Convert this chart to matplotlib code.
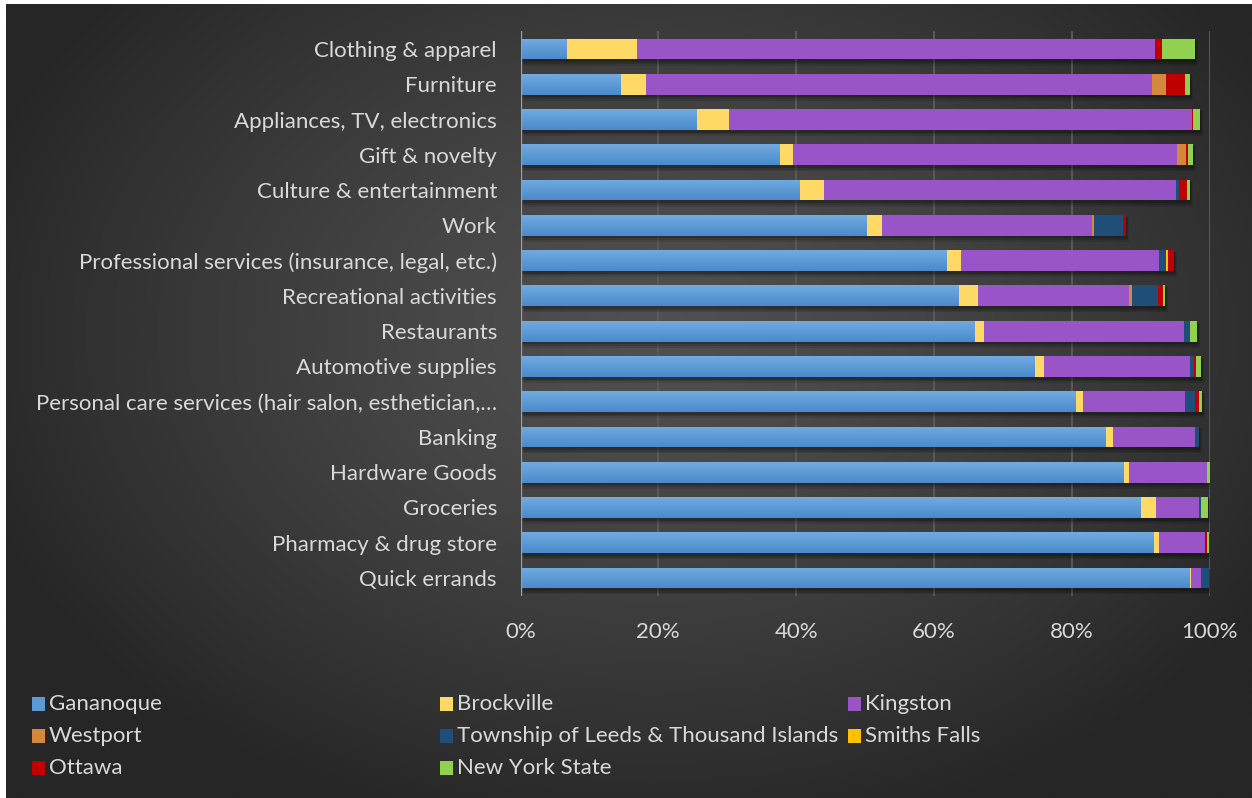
import numpy as np
import matplotlib.pyplot as plt
from matplotlib import transforms
from matplotlib.patches import Rectangle

categories = [
    "Clothing & apparel",
    "Furniture",
    "Appliances, TV, electronics",
    "Gift & novelty",
    "Culture & entertainment",
    "Work",
    "Professional services (insurance, legal, etc.)",
    "Recreational activities",
    "Restaurants",
    "Automotive supplies",
    "Personal care services (hair salon, esthetician,\u2026",
    "Banking",
    "Hardware Goods",
    "Groceries",
    "Pharmacy & drug store",
    "Quick errands",
]

# share of trips (%) per destination, one list per destination
gananoque = [6.6, 14.4, 25.5, 37.5, 40.4, 50.1, 61.7, 63.5, 65.8, 74.5, 80.5, 84.9, 87.4, 89.9, 91.8, 97.0]
brockville = [10.3, 3.8, 4.7, 2.1, 3.7, 2.3, 2.2, 2.9, 1.5, 1.5, 1.2, 1.1, 0.9, 2.3, 0.9, 0.3]
kingston = [75.2, 73.5, 67.2, 55.7, 51.0, 30.5, 28.8, 21.9, 29.0, 21.2, 14.7, 11.9, 11.4, 6.3, 6.6, 1.5]
westport = [0, 2.0, 0, 1.3, 0, 0.4, 0, 0.4, 0, 0, 0, 0, 0, 0, 0, 0]
leeds_ti = [0, 0, 0, 0, 0.5, 4.1, 1.0, 3.8, 0.9, 0.5, 1.5, 0.6, 0, 0.3, 0, 1.1]
smiths_falls = [0, 0, 0, 0, 0, 0, 0.3, 0, 0, 0, 0, 0, 0, 0, 0, 0]
ottawa = [1.0, 2.7, 0.2, 0.3, 1.1, 0.5, 0.9, 0.7, 0, 0.3, 0.6, 0, 0, 0, 0.3, 0]
new_york = [4.8, 0.8, 1.0, 0.7, 0.5, 0, 0, 0.3, 1.0, 0.8, 0.4, 0, 0.3, 1.0, 0.3, 0]

series = [
    ("Gananoque", gananoque, "#5B9BD5"),
    ("Brockville", brockville, "#FFD966"),
    ("Kingston", kingston, "#9955C8"),
    ("Westport", westport, "#D4893A"),
    ("Township of Leeds & Thousand Islands", leeds_ti, "#1F4E79"),
    ("Smiths Falls", smiths_falls, "#FFC000"),
    ("Ottawa", ottawa, "#C00000"),
    ("New York State", new_york, "#92D050"),
]

W, H = 1252, 798
text_col = "#D9D9D9"
font = "Lato"
fsize = 16

fig = plt.figure(figsize=(W / 100, H / 100), dpi=100)
fig.patch.set_facecolor("white")

# radial dark background
bg = fig.add_axes([0, 0, 1, 1], zorder=0)
bg.set_xlim(0, W)
bg.set_ylim(H, 0)
bg.axis("off")
gx, gy = np.meshgrid(np.arange(W), np.arange(H))
d = np.sqrt(((gx - 650) / 720.0) ** 2 + ((gy - 330) / 520.0) ** 2)
d = np.clip(d, 0, 1)
v = (80 - 42 * d ** 1.3) / 255.0
img = np.dstack([v, v, v])
bg.imshow(img, extent=(6, W, H, 4), aspect="auto", interpolation="bilinear")

left, right = 520.5, 1209.5
top, bottom = 31.4, 595.6
ax = fig.add_axes([left / W, 1 - bottom / H, (right - left) / W, (bottom - top) / H], zorder=1)
ax.patch.set_alpha(0)

y = np.arange(len(categories))
bh = 0.59

totals = np.sum([s[1] for s in series], axis=0)

# soft drop shadow under each bar
for k, (dx, dy, a) in enumerate([(3, -4, 0.10), (2, -3, 0.14), (1, -2, 0.18)]):
    off = transforms.offset_copy(ax.transData, fig=fig, x=dx, y=dy, units="dots")
    ax.barh(y, totals, height=bh + 0.04 * (3 - k), color="black", alpha=a,
            transform=off, zorder=2, linewidth=0)

lefts = np.zeros(len(categories))
for name, vals, col in series:
    vals = np.array(vals, dtype=float)
    bars = ax.barh(y, vals, left=lefts, height=bh, color=col, linewidth=0, zorder=3)
    if name == "Gananoque":
        grad = np.linspace(0, 1, 64).reshape(-1, 1)
        cmap = plt.matplotlib.colors.LinearSegmentedColormap.from_list(
            "blue", ["#4A8BCD", "#71AADF"])
        for b in bars:
            x0, y0 = b.get_x(), b.get_y()
            im = ax.imshow(grad, cmap=cmap, aspect="auto", zorder=3.5,
                           extent=(x0, x0 + b.get_width(), y0 + b.get_height(), y0),
                           origin="lower")
            im.set_clip_path(b)
    lefts += vals

ax.set_xlim(0, 100)
ax.set_ylim(len(categories) - 0.5, -0.5)
ax.set_xticks(np.arange(0, 101, 20))
ax.set_xticklabels([f"{t}%" for t in range(0, 101, 20)])
ax.set_yticks(y)
ax.set_yticklabels(categories)

for t in np.arange(20, 101, 20):
    ax.axvline(t, color="#5A5A5A", lw=1.4, zorder=1)
ax.axvline(0, color="#A0A0A0", lw=1.6, zorder=4)

for s in ax.spines.values():
    s.set_visible(False)
ax.tick_params(axis="y", length=0, pad=17, labelsize=fsize, labelcolor=text_col)
ax.tick_params(axis="x", length=0, pad=19, labelsize=fsize, labelcolor=text_col)
for lab in ax.get_xticklabels() + ax.get_yticklabels():
    lab.set_fontfamily(font)

# legend laid out in rows of three
col_x = [32, 440, 848]
row_y = [704, 736, 768]
for i, (name, vals, col) in enumerate(series):
    r, c = divmod(i, 3)
    bg.add_patch(Rectangle((col_x[c], row_y[r] - 7), 13, 14,
                           facecolor=col, edgecolor="none", zorder=5))
    bg.text(col_x[c] + 17, row_y[r], name, color=text_col, fontsize=fsize,
            fontfamily=font, va="center", ha="left", zorder=5)

fig.savefig("out.png", dpi=100)
